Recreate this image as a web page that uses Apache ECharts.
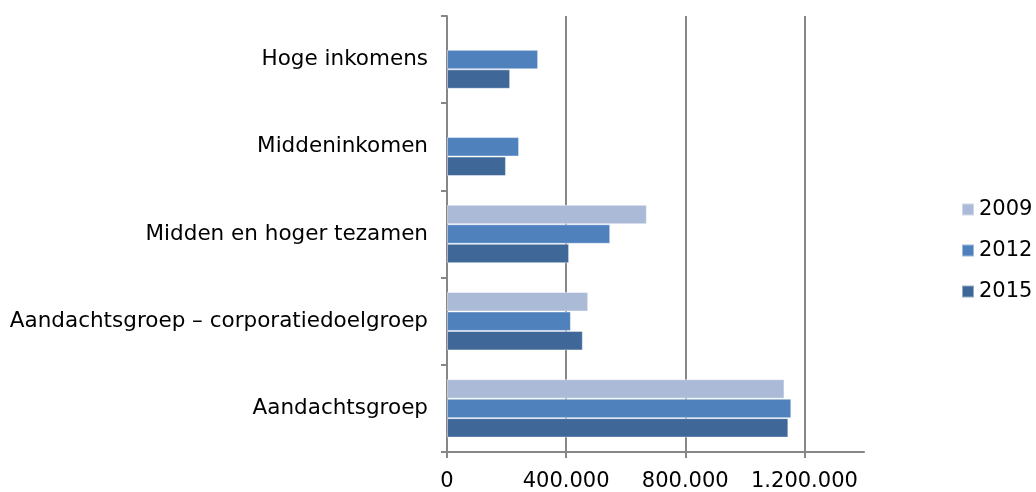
<!DOCTYPE html>
<html>
<head>
<meta charset="utf-8">
<script src="https://cdn.jsdelivr.net/npm/echarts@6/dist/echarts.min.js"></script>
<style>
  html, body { margin: 0; padding: 0; background: #fff; }
  #chart { width: 1036px; height: 492px; }
</style>
</head>
<body>
<div id="chart"></div>
<script>
// categories, bottom to top
var categories = ['Aandachtsgroep', 'Aandachtsgroep – corporatiedoelgroep', 'Midden en hoger tezamen', 'Middeninkomen', 'Hoge inkomens'];
var years = ['2009', '2012', '2015'];
var values2009 = [1133000, 474000, 671000, null, null];
var values2012 = [1156000, 416000, 548000, 242000, 306000];
var values2015 = [1146000, 456000, 410000, 198000, 212000];
var xTicks = [0, 400000, 800000, 1200000];
var colors = { '2009': '#AABAD7', '2012': '#4F81BD', '2015': '#3F6899' };

function fmt(v) {
    return String(v).replace(/\B(?=(\d{3})+(?!\d))/g, '.');
}

var font = 'DejaVu Sans, Verdana, sans-serif';
var chart = echarts.init(document.getElementById('chart'));

function barSeries(name, data) {
    return {
        name: name,
        type: 'bar',
        data: data,
        barGap: '0%',
        barCategoryGap: '33%',
        itemStyle: { color: colors[name], borderColor: 'rgba(255,255,255,0.45)', borderWidth: 1 }
    };
}

var option = {
    animation: false,
    grid: { left: 447, right: 172, top: 16, bottom: 40 },
    legend: {
        orient: 'vertical',
        left: 956,
        top: 194,
        data: years,
        icon: 'rect',
        itemWidth: 12,
        itemHeight: 12,
        itemGap: 20,
        textStyle: { fontFamily: font, fontSize: 21, color: '#000' }
    },
    xAxis: {
        type: 'value',
        min: 0,
        max: 1400000,
        interval: 400000,
        axisLine: { show: true, lineStyle: { color: '#878787', width: 2 } },
        axisTick: { show: true, length: 6, customValues: xTicks, lineStyle: { color: '#878787', width: 2 } },
        axisLabel: { customValues: xTicks, formatter: fmt, fontFamily: font, fontSize: 21, color: '#000', margin: 19 },
        splitLine: { show: true, lineStyle: { color: '#878787', width: 2 } }
    },
    yAxis: {
        type: 'category',
        data: categories,
        axisLine: { show: true, lineStyle: { color: '#878787', width: 2 } },
        axisTick: { show: true, length: 6, lineStyle: { color: '#878787', width: 2 } },
        axisLabel: { fontFamily: font, fontSize: 21.5, color: '#000', margin: 19 }
    },
    series: [
        barSeries('2009', values2009),
        barSeries('2012', values2012),
        barSeries('2015', values2015)
    ]
};
chart.setOption(option);
window.addEventListener('resize', function () {
    chart.resize();
});
</script>
</body>
</html>
